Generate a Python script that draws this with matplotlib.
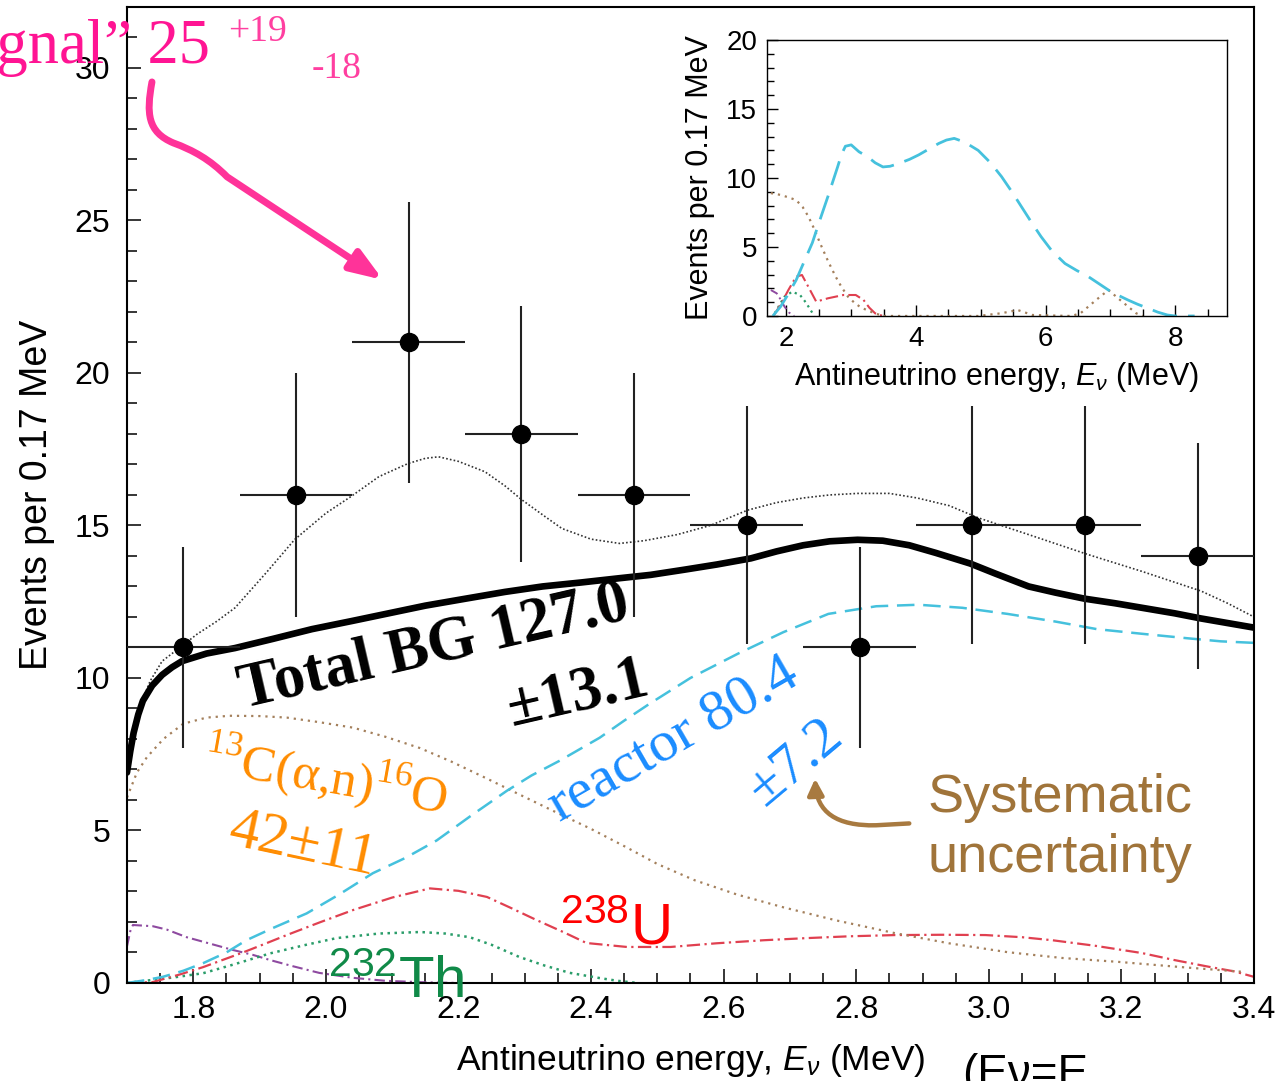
import matplotlib
matplotlib.use("Agg")
import matplotlib.pyplot as plt
from matplotlib.path import Path
from matplotlib.patches import FancyArrowPatch, ArrowStyle
from matplotlib.ticker import MultipleLocator, FormatStrFormatter

plt.rcParams['font.family'] = ['Liberation Sans', 'DejaVu Sans']
plt.rcParams['mathtext.fontset'] = 'custom'
plt.rcParams['mathtext.rm'] = 'Liberation Serif'
plt.rcParams['mathtext.it'] = 'Liberation Sans:italic'
plt.rcParams['mathtext.sf'] = 'Liberation Sans'

# measured spectrum (10 bins of 0.17 MeV)
bin_centers = [1.785, 1.955, 2.125, 2.295, 2.465, 2.635, 2.805, 2.975, 3.145, 3.315]
counts = [11, 16, 21, 18, 16, 15, 11, 15, 15, 14]
count_err = [3.3, 4.0, 4.6, 4.2, 4.0, 3.9, 3.3, 3.9, 3.9, 3.7]
bin_half_width = 0.085

# total background (thick line)
total_bg_x = [1.700, 1.705, 1.710, 1.717, 1.724, 1.738, 1.753, 1.768, 1.783, 1.820, 1.863, 1.920,
              1.979, 2.040, 2.095, 2.150, 2.211, 2.270, 2.327, 2.385, 2.443, 2.490, 2.541, 2.590,
              2.641, 2.680, 2.720, 2.760, 2.802, 2.840, 2.880, 2.920, 2.972, 3.010, 3.060, 3.100,
              3.144, 3.190, 3.231, 3.280, 3.320, 3.360, 3.400]
total_bg_y = [6.9, 7.6, 8.2, 8.8, 9.25, 9.75, 10.1, 10.35, 10.55, 10.8, 10.98, 11.28,
              11.6, 11.87, 12.12, 12.37, 12.6, 12.82, 13.0, 13.13, 13.27, 13.38, 13.55, 13.72,
              13.92, 14.15, 14.35, 14.48, 14.53, 14.5, 14.35, 14.1, 13.75, 13.42, 13.0, 12.8,
              12.6, 12.45, 12.3, 12.12, 11.95, 11.8, 11.65]

# background + best-fit geoneutrinos (thin dotted)
total_fit_x = [1.700, 1.710, 1.720, 1.735, 1.753, 1.780, 1.806, 1.835, 1.863, 1.910, 1.953, 2.000,
               2.038, 2.080, 2.124, 2.150, 2.170, 2.200, 2.240, 2.270, 2.295, 2.330, 2.356, 2.400,
               2.443, 2.480, 2.530, 2.580, 2.636, 2.680, 2.720, 2.760, 2.802, 2.850, 2.892, 2.940,
               2.984, 3.060, 3.149, 3.230, 3.320, 3.360, 3.400]
total_fit_y = [6.9, 8.2, 9.1, 9.9, 10.55, 11.0, 11.44, 11.85, 12.3, 13.45, 14.54, 15.4,
               15.95, 16.6, 17.03, 17.2, 17.25, 17.1, 16.76, 16.3, 15.85, 15.3, 14.9, 14.55,
               14.41, 14.5, 14.7, 15.0, 15.5, 15.75, 15.9, 16.0, 16.05, 16.05, 15.9, 15.65,
               15.25, 14.7, 14.05, 13.5, 12.85, 12.45, 12.0]

reactor_x = [1.700, 1.725, 1.754, 1.785, 1.815, 1.850, 1.880, 1.920, 1.971, 2.020, 2.071, 2.120,
             2.167, 2.220, 2.273, 2.310, 2.353, 2.413, 2.450, 2.488, 2.550, 2.622, 2.690, 2.758,
             2.830, 2.894, 2.960, 3.028, 3.100, 3.163, 3.230, 3.300, 3.350, 3.400]
reactor_y = [0.0, 0.08, 0.2, 0.4, 0.65, 1.0, 1.4, 1.8, 2.28, 2.9, 3.6, 4.1,
             4.67, 5.5, 6.3, 6.8, 7.29, 8.04, 8.6, 9.15, 10.0, 10.8, 11.5, 12.1,
             12.35, 12.4, 12.3, 12.1, 11.85, 11.6, 11.45, 11.3, 11.2, 11.15]

c13_x = [1.700, 1.715, 1.730, 1.755, 1.785, 1.820, 1.855, 1.900, 1.941, 1.990, 2.041, 2.090,
         2.142, 2.190, 2.243, 2.290, 2.342, 2.400, 2.454, 2.500, 2.556, 2.620, 2.690, 2.770,
         2.859, 2.940, 3.028, 3.110, 3.196, 3.290, 3.386]
c13_y = [6.08, 6.9, 7.4, 8.0, 8.5, 8.7, 8.76, 8.75, 8.7, 8.55, 8.37, 8.07,
         7.7, 7.25, 6.7, 6.2, 5.65, 5.05, 4.44, 3.9, 3.37, 2.9, 2.48, 2.05,
         1.63, 1.3, 1.01, 0.82, 0.69, 0.52, 0.36]

u238_x = [1.700, 1.739, 1.780, 1.815, 1.875, 1.910, 1.941, 1.990, 2.041, 2.100, 2.157, 2.200,
          2.243, 2.280, 2.318, 2.360, 2.393, 2.454, 2.520, 2.589, 2.660, 2.725, 2.790, 2.859,
          2.930, 2.995, 3.050, 3.096, 3.160, 3.231, 3.280, 3.332, 3.370, 3.400]
u238_y = [0.0, 0.03, 0.28, 0.52, 1.0, 1.3, 1.57, 1.98, 2.39, 2.8, 3.1, 3.02,
          2.82, 2.45, 2.06, 1.65, 1.31, 1.18, 1.18, 1.3, 1.4, 1.47, 1.53, 1.57,
          1.58, 1.57, 1.5, 1.4, 1.22, 0.98, 0.75, 0.53, 0.38, 0.2]

th232_x = [1.700, 1.739, 1.770, 1.815, 1.860, 1.916, 1.970, 2.016, 2.080, 2.142, 2.180, 2.217,
           2.250, 2.292, 2.330, 2.368, 2.413, 2.440, 2.470]
th232_y = [0.0, 0.1, 0.18, 0.32, 0.6, 0.97, 1.25, 1.47, 1.62, 1.67, 1.62, 1.5,
           1.25, 0.85, 0.57, 0.33, 0.16, 0.07, 0.0]

other_x = [1.700, 1.705, 1.709, 1.739, 1.760, 1.790, 1.820, 1.860, 1.890, 1.916, 1.950, 1.990,
           2.040, 2.090, 2.150, 2.200]
other_y = [1.2, 1.7, 1.9, 1.86, 1.75, 1.5, 1.32, 1.08, 0.92, 0.75, 0.55, 0.33,
           0.17, 0.07, 0.02, 0.0]

# inset: full energy range
in_reactor_x = [1.79, 1.91, 2.03, 2.15, 2.27, 2.40, 2.52, 2.64, 2.79, 2.85, 2.91, 3.00, 3.12,
                3.25, 3.37, 3.49, 3.60, 3.74, 3.90, 4.04, 4.20, 4.35, 4.47, 4.59, 4.75, 4.96,
                5.15, 5.32, 5.48, 5.63, 5.78, 5.93, 6.10, 6.30, 6.48, 6.66, 6.82, 6.97, 7.12,
                7.27, 7.42, 7.58, 7.73, 7.88, 8.00, 8.30]
in_reactor_y = [0, 0.68, 1.6, 2.6, 3.9, 5.3, 7.0, 8.65, 10.8, 11.7, 12.3, 12.4, 11.9,
                11.55, 11.1, 10.8, 10.85, 11.06, 11.35, 11.67, 12.1, 12.5, 12.75, 12.87, 12.6, 12.0,
                11.1, 10.1, 9.0, 7.9, 6.8, 5.75, 4.7, 3.8, 3.3, 2.85, 2.35, 1.88, 1.5,
                1.16, 0.85, 0.56, 0.28, 0.07, 0, 0]
in_c13_x = [1.76, 1.83, 1.91, 2.03, 2.15, 2.25, 2.34, 2.43, 2.52, 2.64, 2.76, 2.85, 2.95,
            3.04, 3.13, 3.25, 3.37, 3.49, 4.96, 5.32, 5.57, 5.80, 6.40, 6.54, 6.78, 6.97,
            7.15, 7.40, 7.50]
in_c13_y = [8.9, 8.85, 8.77, 8.6, 8.4, 7.9, 7.2, 6.3, 5.27, 4.0, 2.85, 2.1, 1.4,
            1.0, 0.68, 0.4, 0.19, 0, 0, 0.2, 0.43, 0.07, 0, 0.2, 1.16, 1.88,
            1.16, 0.19, 0]
in_u238_x = [1.80, 1.92, 2.03, 2.15, 2.24, 2.34, 2.46, 2.64, 2.88, 3.07, 3.19, 3.28, 3.37, 3.49]
in_u238_y = [0, 0.9, 1.88, 2.85, 2.97, 2.1, 1.04, 1.28, 1.52, 1.52, 1.16, 0.6, 0.19, 0]
in_th232_x = [1.82, 1.90, 1.97, 2.09, 2.21, 2.28, 2.34, 2.43]
in_th232_y = [0.2, 0.85, 1.4, 1.76, 1.52, 1.1, 0.68, 0]
in_other_x = [1.76, 1.85, 1.91, 1.97, 2.04, 2.12]
in_other_y = [1.88, 1.64, 1.2, 0.68, 0.25, 0]

CYAN = '#45c1dd'
BROWN = '#a4805c'
RED = '#e04050'
GREEN = '#2a9d6a'
PURPLE = '#8e4aa0'

fig = plt.figure(figsize=(12.8, 10.81), dpi=100)
ax = fig.add_axes([0.0992, 0.0907, 0.8805, 0.9029])

ax.plot(other_x, other_y, color=PURPLE, lw=1.5, ls=(0, (5, 2, 1, 2)), zorder=2)
ax.plot(th232_x, th232_y, color=GREEN, lw=1.8, ls=(0, (1, 1.8)), zorder=2)
ax.plot(u238_x, u238_y, color=RED, lw=1.6, ls=(0, (6, 2, 1, 2)), zorder=2)
ax.plot(c13_x, c13_y, color=BROWN, lw=1.6, ls=(0, (1, 2.2)), zorder=2)
ax.plot(reactor_x, reactor_y, color=CYAN, lw=1.8, ls=(0, (7, 3.5)), zorder=2)
ax.plot(total_fit_x, total_fit_y, color='#333333', lw=1.2, ls=(0, (1, 1.3)), zorder=2)
ax.plot(total_bg_x, total_bg_y, color='black', lw=4.8, solid_capstyle='round',
        solid_joinstyle='round', zorder=3)

ax.errorbar(bin_centers, counts, yerr=count_err, xerr=bin_half_width, fmt='o',
            color='black', ecolor='#222222', elinewidth=1.5, markersize=13,
            capsize=0, zorder=4)

ax.set_xlim(1.7, 3.4)
ax.set_ylim(0, 32)
ax.xaxis.set_major_locator(MultipleLocator(0.2))
ax.xaxis.set_minor_locator(MultipleLocator(0.05))
ax.xaxis.set_major_formatter(FormatStrFormatter('%.1f'))
ax.yaxis.set_major_locator(MultipleLocator(5))
ax.yaxis.set_minor_locator(MultipleLocator(1))
ax.tick_params(which='both', direction='in', width=1.1, labelsize=23)
ax.tick_params(which='major', length=10)
ax.tick_params(which='minor', length=7)
ax.tick_params(axis='y', pad=12)
ax.tick_params(axis='x', pad=9)
for s in ax.spines.values():
    s.set_linewidth(1.5)
ax.set_xlabel(r'Antineutrino energy, $E_{\nu}$ (MeV)', fontsize=25.5, labelpad=12)
ax.set_ylabel('Events per 0.17 MeV', fontsize=27, labelpad=14)

# annotations
serif = 'Liberation Serif'
ax.text(1.825, 30.17, '\u201csignal\u201d 25', color='#ff1493', fontsize=45, family=serif,
        ha='right', va='baseline', zorder=6)
ax.text(1.852, 30.89, '+19', color='#ff3fa0', fontsize=27, family=serif,
        ha='left', va='baseline', zorder=6)
ax.text(1.979, 29.68, '-18', color='#ff3fa0', fontsize=27, family=serif,
        ha='left', va='baseline', zorder=6)

pink_path = Path([(1.7377, 29.54), (1.729, 28.5), (1.731, 27.9), (1.770, 27.54),
                  (1.800, 27.3), (1.825, 27.0), (1.851, 26.43), (2.0861, 23.05)],
                 [Path.MOVETO, Path.CURVE4, Path.CURVE4, Path.CURVE4,
                  Path.CURVE4, Path.CURVE4, Path.CURVE4, Path.LINETO])
ax.add_patch(FancyArrowPatch(path=pink_path, arrowstyle=ArrowStyle('-|>', head_length=0.6, head_width=0.22),
                             mutation_scale=32, color='#ff3399', lw=5, capstyle='round', zorder=6))

ax.text(2.163, 10.98, 'Total BG 127.0', fontsize=45, family=serif, weight='bold',
        rotation=13, rotation_mode='anchor', ha='center', va='center', zorder=6)
ax.text(2.380, 9.44, '\u00b113.1', fontsize=45, family=serif, weight='bold',
        rotation=13, rotation_mode='anchor', ha='center', va='center', zorder=6)

ax.text(1.999, 6.75, '$^{13}$C(\u03b1,n)$^{16}$O', color='#ff8c00', fontsize=37, family=serif,
        rotation=-10, rotation_mode='anchor', ha='center', va='center', zorder=6)
ax.text(1.965, 4.49, '42\u00b111', color='#ff8c00', fontsize=43, family=serif,
        rotation=-12, rotation_mode='anchor', ha='center', va='center', zorder=6)

ax.text(2.524, 7.97, 'reactor 80.4', color='#1a8cff', fontsize=42, family=serif,
        rotation=30, rotation_mode='anchor', ha='center', va='center', zorder=6)
ax.text(2.708, 7.25, '\u00b17.2', color='#1a8cff', fontsize=42, family=serif,
        rotation=40, rotation_mode='anchor', ha='center', va='center', zorder=6)

ax.text(3.107, 5.61, 'Systematic', color='#a0743a', fontsize=39, ha='center', va='baseline', zorder=6)
ax.text(3.107, 3.64, 'uncertainty', color='#a0743a', fontsize=39, ha='center', va='baseline', zorder=6)
brown_path = Path([(2.880, 5.23), (2.830, 5.17), (2.770, 5.14), (2.740, 5.6), (2.738, 6.70)],
                  [Path.MOVETO, Path.LINETO, Path.CURVE4, Path.CURVE4, Path.CURVE4])
ax.add_patch(FancyArrowPatch(path=brown_path, arrowstyle=ArrowStyle('-|>', head_length=0.6, head_width=0.3),
                             mutation_scale=16, color='#a87a40', lw=3.2, capstyle='round', zorder=6))

ax.text(2.353, 1.25, r'$^{\mathsf{238}}$U', color='#ff0000', fontsize=42,
        ha='left', va='baseline', zorder=6)
ax.text(2.003, -0.49, r'$^{\mathsf{232}}$Th', color='#108a48', fontsize=42,
        ha='left', va='baseline', zorder=6, clip_on=False)

fig.text(0.7516, -0.0056, '(E\u03bd=E', fontsize=33, ha='left', va='baseline')

# inset with the full energy range
ins = fig.add_axes([0.5992, 0.7077, 0.3594, 0.2553], facecolor='white', zorder=5)
ins.plot(in_other_x, in_other_y, color=PURPLE, lw=1.4, ls=(0, (4, 2, 1, 2)))
ins.plot(in_th232_x, in_th232_y, color=GREEN, lw=1.6, ls=(0, (1, 1.8)))
ins.plot(in_u238_x, in_u238_y, color=RED, lw=1.5, ls=(0, (6, 2, 1, 2)))
ins.plot(in_c13_x, in_c13_y, color=BROWN, lw=1.6, ls=(0, (1, 2.2)))
ins.plot(in_reactor_x, in_reactor_y, color=CYAN, lw=2.0, ls=(0, (9, 4)))
ins.set_xlim(1.7, 8.8)
ins.set_ylim(0, 20)
ins.xaxis.set_major_locator(MultipleLocator(2))
ins.xaxis.set_minor_locator(MultipleLocator(0.5))
ins.yaxis.set_major_locator(MultipleLocator(5))
ins.yaxis.set_minor_locator(MultipleLocator(1))
ins.tick_params(which='both', direction='in', width=1.0, labelsize=20, pad=7)
ins.tick_params(which='major', length=8)
ins.tick_params(which='minor', length=5)
for s in ins.spines.values():
    s.set_linewidth(1.0)
ins.set_xlabel(r'Antineutrino energy, $E_{\nu}$ (MeV)', fontsize=22, labelpad=6)
ins.set_ylabel('Events per 0.17 MeV', fontsize=22, labelpad=8)

fig.savefig('out.png', dpi=100)
